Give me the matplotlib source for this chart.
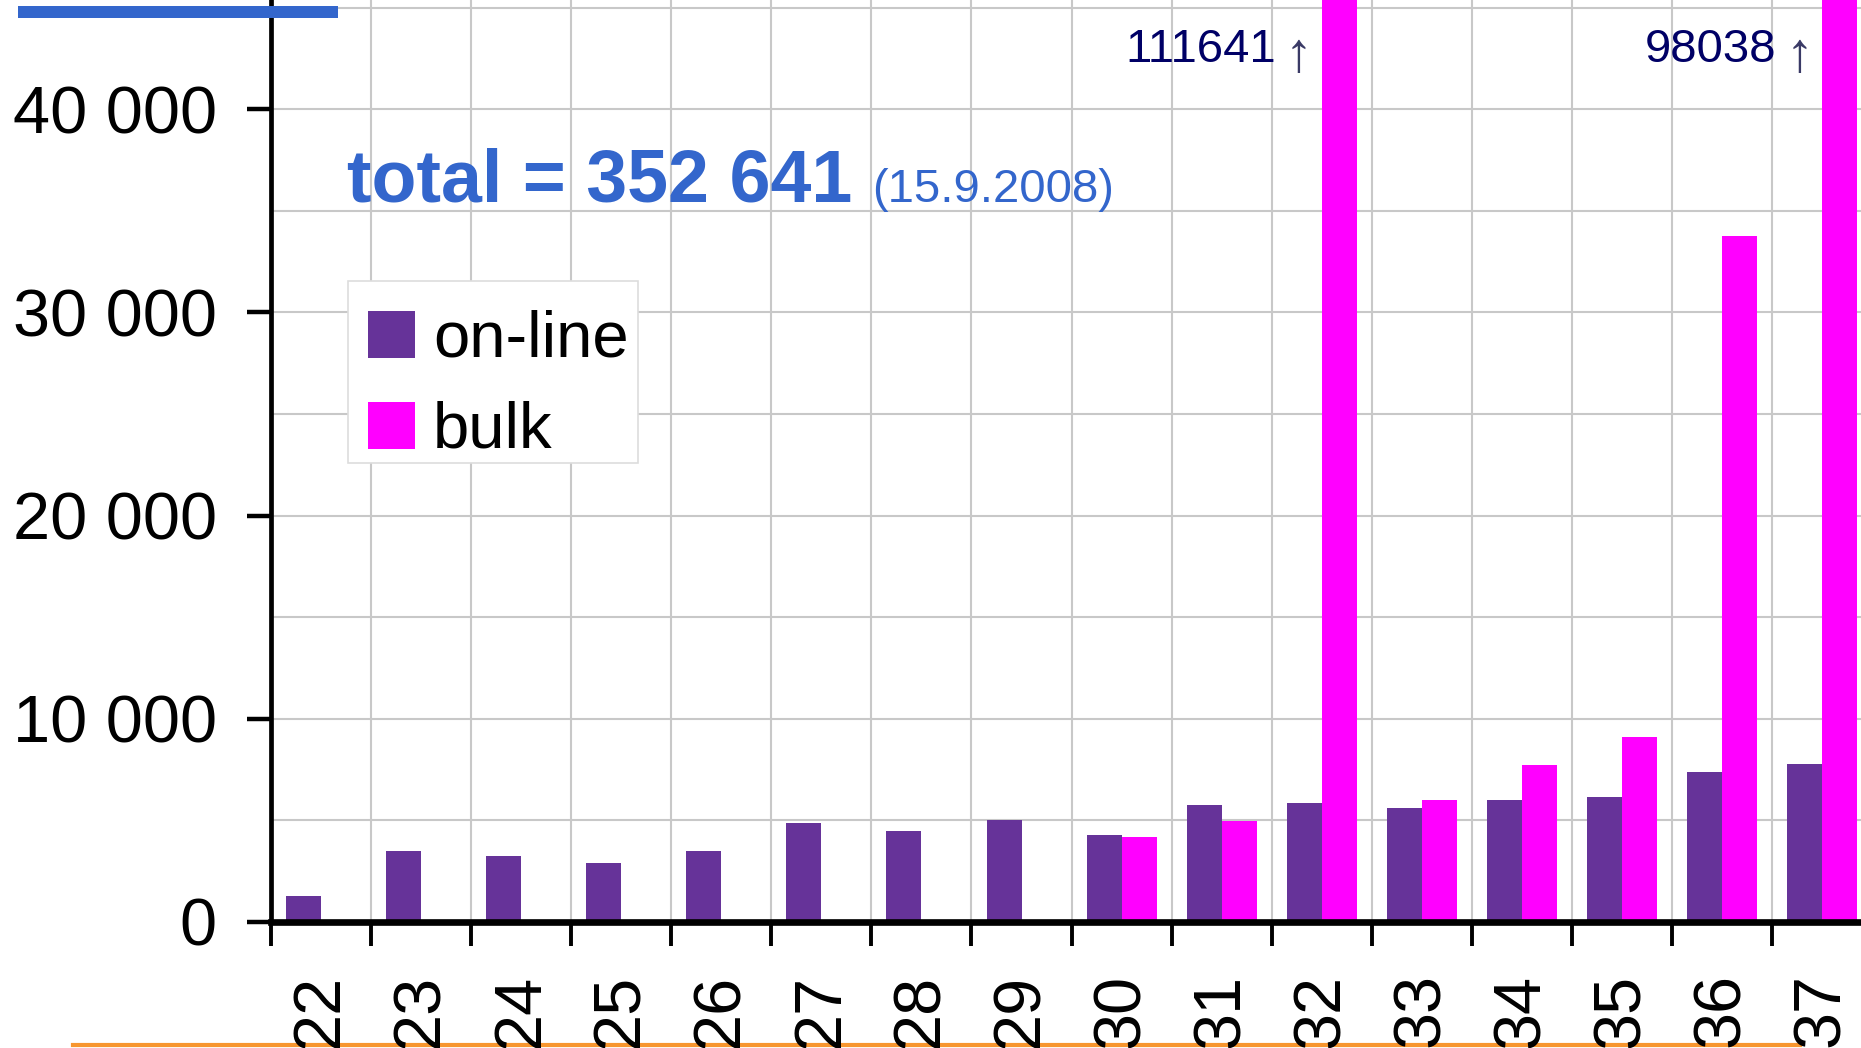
import matplotlib
matplotlib.use("Agg")
import matplotlib.pyplot as plt
import numpy as np
from matplotlib.ticker import MultipleLocator, FuncFormatter, FixedLocator
from matplotlib.patches import Rectangle
from matplotlib.lines import Line2D

plt.rcParams['font.family'] = ['Liberation Sans', 'DejaVu Sans']

# data
weeks = [22, 23, 24, 25, 26, 27, 28, 29, 30, 31, 32, 33, 34, 35, 36, 37]
online = [1270, 3490, 3240, 2910, 3490, 4890, 4480, 5030, 4300, 5760, 5840, 5620, 6020, 6170, 7390, 7790]
bulk = [None, None, None, None, None, None, None, None, 4160, 4950, 111641, 6020, 7710, 9080, 33780, 98038]
ytick_vals = [0, 10000, 20000, 30000, 40000]
series_names = ['on-line', 'bulk']
total_text = "total = 352 641"
date_text = "(15.9.2008)"

c_online = '#663399'
c_bulk = '#ff00ff'
c_blue = '#3366cc'
c_grid = '#c8c8c8'

W, H = 1861, 1048
fig = plt.figure(figsize=(W / 100, H / 100), dpi=100)
ax = fig.add_axes([271 / W, 1 - 922 / H, (W - 271) / W, 922 / H])

x = np.array(weeks, dtype=float)
bw = 0.35
ax.bar(x - bw / 2, online, width=bw, color=c_online, linewidth=0, zorder=2)
bx = [w for w, b in zip(weeks, bulk) if b is not None]
bv = [b for b in bulk if b is not None]
ax.bar(np.array(bx) + bw / 2, bv, width=bw, color=c_bulk, linewidth=0, zorder=2)

ymax = 45370
ax.set_xlim(21.5, 21.5 + (W - 271) / 100.07)
ax.set_ylim(0, ymax)

# values of the bars that run off the top
for w, b in zip(weeks, bulk):
    if b is not None and b > ymax:
        ax.text(w - 0.46, 42300, f"{b}", ha='right', va='baseline',
                color='#000066', fontsize=34, zorder=3)
        ax.text(w - 0.09, 41900, "\u2191", ha='right', va='baseline',
                color='#3a3a66', fontsize=40, zorder=3)

# axes styling
for s in ['top', 'right']:
    ax.spines[s].set_visible(False)
ax.spines['left'].set_linewidth(3.4)
ax.spines['bottom'].set_linewidth(4.8)
ax.spines['left'].set_zorder(4)
ax.spines['bottom'].set_zorder(4)

ax.yaxis.set_major_locator(FixedLocator(ytick_vals))
ax.yaxis.set_minor_locator(MultipleLocator(5000))
ax.yaxis.set_major_formatter(FuncFormatter(lambda v, p: f"{int(v):,}".replace(",", " ")))
ax.tick_params(axis='y', which='major', length=17, width=3.2, pad=22, labelsize=48)
ax.tick_params(axis='y', which='minor', length=0)

ax.xaxis.set_major_locator(FixedLocator(np.arange(21.5, 38, 1)))
ax.xaxis.set_minor_locator(FixedLocator(weeks))
ax.xaxis.set_major_formatter(FuncFormatter(lambda v, p: ""))
ax.xaxis.set_minor_formatter(FuncFormatter(lambda v, p: f"{int(round(v))}"))
ax.tick_params(axis='x', which='major', length=17, width=2.8)
ax.tick_params(axis='x', which='minor', length=0, pad=37, labelsize=48, labelrotation=90)

ax.set_axisbelow(True)
ax.grid(axis='y', which='both', color=c_grid, linewidth=1.5)
ax.grid(axis='x', which='major', color=c_grid, linewidth=1.5)

# legend box, drawn by hand in figure pixels
def fx(px):
    return px / W

def fy(py):
    return 1 - py / H

fig.patches.append(Rectangle((fx(348), fy(463)), fx(638) - fx(348), fy(281) - fy(463),
                             transform=fig.transFigure, facecolor='white', edgecolor='#dddddd',
                             linewidth=1.2, zorder=6))
for name, col, top, base in zip(series_names, [c_online, c_bulk], [311, 402], [356, 447]):
    fig.patches.append(Rectangle((fx(368), fy(top + 47)), fx(415) - fx(368), fy(top) - fy(top + 47),
                                 transform=fig.transFigure, facecolor=col, edgecolor='none', zorder=7))
    fig.text(fx(433), fy(base), name, fontsize=47, color='black', va='baseline', zorder=7)

# total text
fig.text(347 / W, 1 - 202 / H, total_text, fontsize=53, fontweight='bold', color=c_blue, va='baseline')
fig.text(872 / W, 1 - 202 / H, date_text, fontsize=34, color=c_blue, va='baseline')

# blue bar at the top-left and orange rule at the bottom
fig.patches.append(Rectangle((18 / W, 1 - 18 / H), 320 / W, 12 / H, transform=fig.transFigure,
                             facecolor=c_blue, edgecolor='none', zorder=5))
fig.lines.append(Line2D([73 / W, 1800 / W], [1 - 1045 / H, 1 - 1045 / H], transform=fig.transFigure,
                        color='#f7962f', linewidth=3, zorder=-1))

fig.savefig("out.png", dpi=100)
